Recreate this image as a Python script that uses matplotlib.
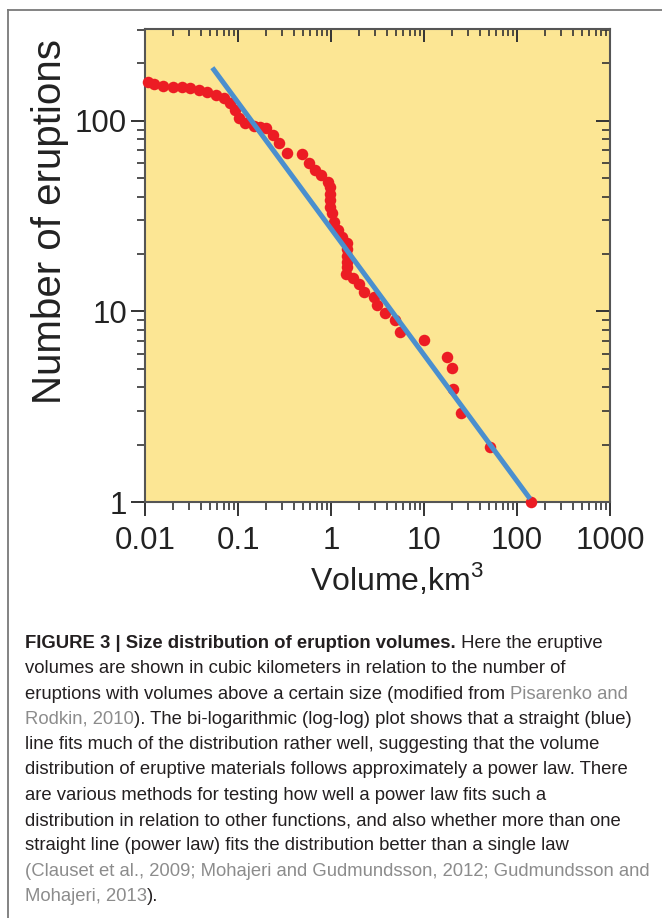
import matplotlib
matplotlib.use("Agg")
import matplotlib.pyplot as plt
from matplotlib.ticker import NullFormatter, FixedLocator, FixedFormatter, LogLocator

plt.rcParams['font.family'] = ['Liberation Sans', 'DejaVu Sans']
plt.rcParams['mathtext.fontset'] = 'custom'
plt.rcParams['mathtext.rm'] = 'Liberation Sans'

# eruption volumes (km3) and number of eruptions with volume above that size
vol = [0.0107, 0.0126, 0.0155, 0.0201, 0.0248, 0.0306, 0.0377, 0.0465, 0.0574,
       0.0708, 0.0827, 0.0919, 0.102, 0.119, 0.147, 0.172, 0.201, 0.236, 0.276,
       0.34, 0.49, 0.573, 0.671, 0.785, 0.918, 0.968, 0.97, 0.97, 0.97, 1.02,
       1.07, 1.19, 1.32, 1.47, 1.5, 1.5, 1.49, 1.48, 1.45, 1.74, 2.01, 2.28,
       2.9, 3.15, 3.81, 4.88, 5.52, 10.0, 17.5, 19.9, 20.7, 25.0, 51.3, 141]
count = [159, 156, 152, 151, 150, 148, 145, 142, 136.5,
         131, 123.5, 114, 103, 97, 94, 92.5, 91.4, 84.3, 76.2,
         67.5, 66.7, 59.8, 55.2, 52, 47.9, 45.1, 41.5, 38.5, 35.5, 32.7,
         29.5, 26.7, 24.7, 22.8, 21.2, 19.6, 18.2, 17.0, 15.8, 15, 13.9, 12.7,
         11.9, 10.8, 9.77, 9.0, 7.83, 7.08, 5.78, 5.03, 3.9, 2.92, 1.95, 1.0]

# power law fit (blue line) end points
fit_x = [0.053, 138]
fit_y = [190, 1.04]

xticks = [0.01, 0.1, 1, 10, 100, 1000]
xlabels = ['0.01', '0.1', '1', '10', '100', '1000']
yticks = [1, 10, 100]
ylabels = ['1', '10', '100']

W, H = 662, 918
fig = plt.figure(figsize=(W / 100, H / 100), dpi=100)
fig.patch.set_facecolor('white')

# frame around the figure panel
fig.add_artist(plt.Line2D([8 / W, 1], [1 - 10 / H, 1 - 10 / H], transform=fig.transFigure,
                          color='#7a7a7a', lw=1.3))
fig.add_artist(plt.Line2D([8 / W, 8 / W], [0, 1 - 10 / H], transform=fig.transFigure,
                          color='#7a7a7a', lw=1.3))

left, right, top, bottom = 145, 610, 28.5, 502
ax = fig.add_axes([left / W, 1 - bottom / H, (right - left) / W, (bottom - top) / H])
ax.set_facecolor('#fce694')
ax.set_xscale('log')
ax.set_yscale('log')
ax.set_xlim(0.01, 1000)
ax.set_ylim(1, 305)

ax.plot(vol, count, 'o', color='#ec1c24', ms=8.3, mec='none', zorder=3, clip_on=False)
ax.plot(fit_x, fit_y, '-', color='#4a8fce', lw=3.6, zorder=4, solid_capstyle='butt')

spine_c = '#555555'
for s in ax.spines.values():
    s.set_color(spine_c)
    s.set_linewidth(1.5)

ax.xaxis.set_major_locator(FixedLocator(xticks))
ax.xaxis.set_major_formatter(FixedFormatter(xlabels))
ax.yaxis.set_major_locator(FixedLocator(yticks))
ax.yaxis.set_major_formatter(FixedFormatter(ylabels))
ax.xaxis.set_minor_locator(LogLocator(base=10, subs=range(2, 10)))
ax.yaxis.set_minor_locator(LogLocator(base=10, subs=range(2, 10)))
ax.xaxis.set_minor_formatter(NullFormatter())
ax.yaxis.set_minor_formatter(NullFormatter())
ax.tick_params(which='major', direction='out', length=10, width=1.4, color='#333333',
               labelsize=22.5, labelcolor='#222222')
ax.tick_params(which='minor', direction='out', length=6, width=1.2, color='#333333')
ax.tick_params(axis='x', which='major', pad=7)
ax.tick_params(axis='y', which='major', pad=3)

# inward ticks on top and right
axt = ax.secondary_xaxis('top')
axt.xaxis.set_major_locator(FixedLocator(xticks))
axt.xaxis.set_minor_locator(LogLocator(base=10, subs=range(2, 10)))
axt.xaxis.set_major_formatter(NullFormatter())
axt.xaxis.set_minor_formatter(NullFormatter())
axt.tick_params(which='major', direction='in', length=10, width=1.4, color='#333333')
axt.tick_params(which='minor', direction='in', length=5.5, width=1.2, color='#333333')
axt.spines['top'].set_visible(False)

axr = ax.secondary_yaxis('right')
axr.yaxis.set_major_locator(FixedLocator(yticks))
axr.yaxis.set_minor_locator(LogLocator(base=10, subs=range(2, 10)))
axr.yaxis.set_major_formatter(NullFormatter())
axr.yaxis.set_minor_formatter(NullFormatter())
axr.tick_params(which='major', direction='in', length=10, width=1.4, color='#333333')
axr.tick_params(which='minor', direction='in', length=5.5, width=1.2, color='#333333')
axr.spines['right'].set_visible(False)

fig.text(50 / W, 1 - 221 / H, 'Number of eruptions', rotation=90, ha='center', va='center',
         fontsize=29, color='#222222')
fig.text(310 / W, 1 - 590 / H, 'Volume,km$^3$', ha='left', va='baseline',
         fontsize=23, color='#222222')

# caption, one list of (text, style) pieces per line
dark = '#231f20'
grey = '#8c8c8c'
caption = [
    [('FIGURE 3 | Size distribution of eruption volumes.', 'b'), (' Here the eruptive', 'n')],
    [('volumes are shown in cubic kilometers in relation to the number of', 'n')],
    [('eruptions with volumes above a certain size (modified from ', 'n'), ('Pisarenko and', 'g')],
    [('Rodkin, 2010', 'g'), ('). The bi-logarithmic (log-log) plot shows that a straight (blue)', 'n')],
    [('line fits much of the distribution rather well, suggesting that the volume', 'n')],
    [('distribution of eruptive materials follows approximately a power law. There', 'n')],
    [('are various methods for testing how well a power law fits such a', 'n')],
    [('distribution in relation to other functions, and also whether more than one', 'n')],
    [('straight line (power law) fits the distribution better than a single law', 'n')],
    [('(Clauset et al., 2009; Mohajeri and Gudmundsson, 2012; Gudmundsson and', 'g')],
    [('Mohajeri, 2013', 'g'), (').', 'n')],
]

cap = fig.add_axes([0, 0, 1, 1])
cap.axis('off')
cap.set_xlim(0, W)
cap.set_ylim(H, 0)
fs = 13.3
for i, line in enumerate(caption):
    y = 648 + i * 25.3
    prev = None
    for txt, st in line:
        kw = dict(fontsize=fs, color=grey if st == 'g' else dark,
                  fontweight='bold' if st == 'b' else 'normal')
        if prev is None:
            prev = cap.text(25, y, txt, ha='left', va='baseline', **kw)
        else:
            prev = cap.annotate(txt, xy=(1, 0), xycoords=prev, ha='left', va='bottom', **kw)

fig.savefig('out.png', dpi=100, facecolor='white')
